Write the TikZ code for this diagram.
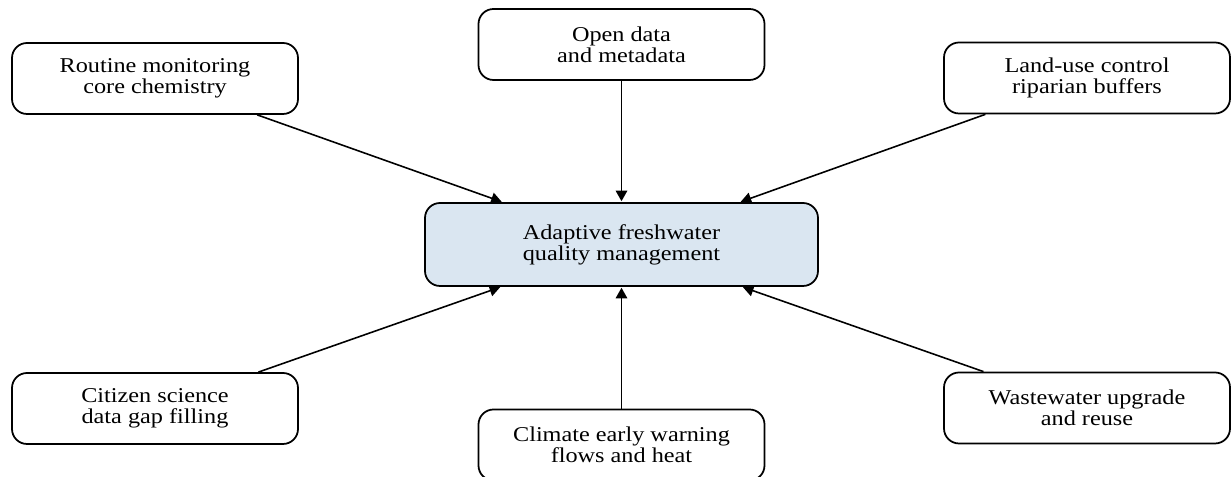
\documentclass[tikz,border=0pt]{standalone}
\usepackage{fontspec}
\setmainfont{Liberation Serif}[FakeStretch=1.15]
\usetikzlibrary{arrows.meta}
\definecolor{hubblue}{RGB}{218,230,241}
\tikzstyle{source} = [rectangle, rounded corners=0.3cm, draw, line width=1pt, minimum width=5.72cm, minimum height=1.42cm, align=center, font=\fontsize{12}{12}\selectfont]
\tikzstyle{hub} = [source, minimum width=7.86cm, minimum height=1.66cm, fill=hubblue]
\tikzstyle{arrow} = [line width=0.9pt, -{Triangle[length=6pt,width=6.5pt]}, shorten >=0.5pt]

\begin{document}
\begin{tikzpicture}
    \useasboundingbox (0,0) rectangle (24.62,9.54);
    \node [hub] at (12.43,4.65) (hub) {Adaptive freshwater\\quality management};
    \node [source] at (3.10,7.97) (routine) {Routine monitoring\\core chemistry};
    \node [source] at (12.43,8.65) (opendata) {Open data\\and metadata};
    \node [source] at (21.74,7.98) (landuse) {Land-use control\\riparian buffers};
    \node [source] at (3.10,1.37) (citizen) {Citizen science\\data gap filling};
    \node [source] at (12.43,0.64) (climate) {Climate early warning\\flows and heat};
    \node [source] at (21.74,1.38) (wastewater) {Wastewater upgrade\\and reuse};

    \draw [arrow] (routine) -- (hub);
    \draw [arrow] (opendata) -- (hub);
    \draw [arrow] (landuse) -- (hub);
    \draw [arrow] (citizen) -- (hub);
    \draw [arrow] (climate) -- (hub);
    \draw [arrow] (wastewater) -- (hub);
\end{tikzpicture}
\end{document}
